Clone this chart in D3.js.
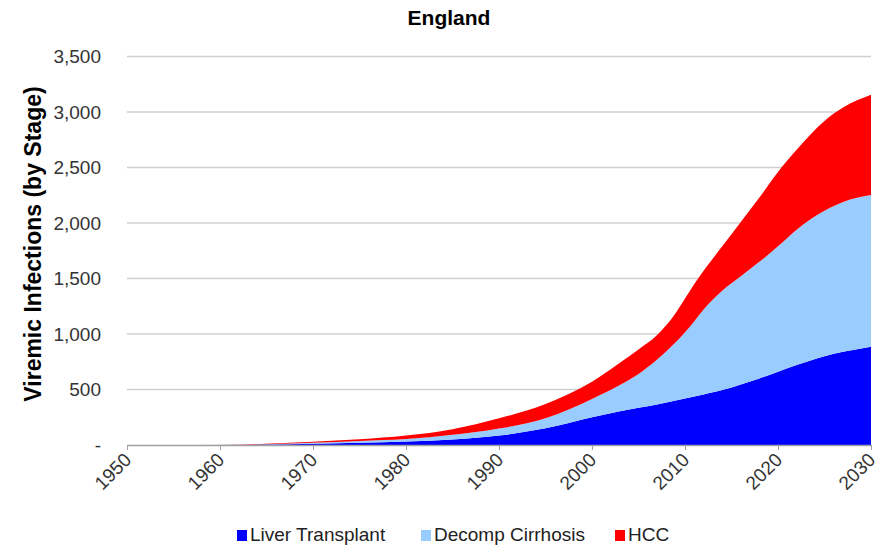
<!DOCTYPE html>
<html><head><meta charset="utf-8">
<script src="https://cdn.jsdelivr.net/npm/d3@7"></script>
<style>body{margin:0;background:#fff;} svg{display:block;font-family:"Liberation Sans",Arial,sans-serif;}</style>
</head><body>
<svg id="c" width="888" height="550"></svg>
<script>
const years =         [1950,1955,1960,1965,1970,1975,1980,1985,1990,1995,2000,2003,2005,2007,2008,2009,2010,2011,2012,2013,2014,2016,2018,2020,2022,2025,2027,2030];
const liverTransplant=[0,   0,   1,   4,   12,  20,  32,  50,  85,  150, 250, 305, 335, 365, 382, 400, 420, 437, 455, 475, 495, 545, 600, 660, 720, 800, 840, 886];
const decompCirrhosis=[0,   0,   1,   3,   8,   16,  21,  42,  63,  90,  165, 235, 305, 405, 463, 525, 595, 678, 765, 835, 895, 975, 1050,1130,1220,1310,1350,1366];
const hcc =           [0,   0,   1,   5,   10,  16,  32,  51,  92,  130, 155, 200, 220, 220, 235, 265, 305, 335, 350, 370, 400, 490, 580, 670, 720, 810, 850, 903];
const seriesNames = ["Liver Transplant","Decomp Cirrhosis","HCC"];
const colors = ["#0000ff","#99ccff","#ff0000"];
const yTicks = [0,500,1000,1500,2000,2500,3000,3500];
const xTicks = [1950,1960,1970,1980,1990,2000,2010,2020,2030];

const svg = d3.select("#c");
const x = d3.scaleLinear().domain([1950,2030]).range([127,871]);
const y = d3.scaleLinear().domain([0,3500]).range([445,56.5]);

const rows = years.map((yr,i)=>({year:yr,"Liver Transplant":liverTransplant[i],"Decomp Cirrhosis":decompCirrhosis[i],"HCC":hcc[i]}));
const stacked = d3.stack().keys(seriesNames)(rows);

// gridlines
svg.append("g").selectAll("line").data(yTicks.filter(d=>d>0)).join("line")
  .attr("x1",127).attr("x2",871).attr("y1",d=>y(d)).attr("y2",d=>y(d))
  .attr("stroke","#d0d0d0").attr("stroke-width",1.5);

const area = d3.area().x(d=>x(d.data.year)).y0(d=>y(d[0])).y1(d=>y(d[1])).curve(d3.curveMonotoneX);
svg.append("g").selectAll("path").data(stacked).join("path")
  .attr("d",area).attr("fill",(d,i)=>colors[i]);

// y axis labels
const fmt = d3.format(",");
svg.append("g").selectAll("text").data(yTicks).join("text")
  .attr("x",101).attr("y",d=>y(d)).attr("dy","0.35em").attr("text-anchor","end")
  .attr("font-size",19).attr("fill","#333")
  .text(d=>d===0?"-":fmt(d));

// x axis
const xAxis = d3.axisBottom(x).tickValues(xTicks).tickFormat(d3.format("d")).tickSize(5).tickSizeOuter(0);
const gx = svg.append("g").attr("transform","translate(0,445)").call(xAxis);
gx.select(".domain").attr("stroke","#a0a0a0").attr("stroke-width",1.5);
gx.selectAll(".tick line").attr("stroke","#a0a0a0");
gx.selectAll(".tick text")
  .attr("font-size",19).attr("fill","#333").attr("font-family","Liberation Sans, Arial, sans-serif")
  .attr("text-anchor","end").attr("dy",0).attr("y",0)
  .attr("transform","translate(5,16) rotate(-45)");

// title
svg.append("text").attr("x",449).attr("y",25).attr("text-anchor","middle")
  .attr("font-size",21).attr("font-weight","bold").attr("fill","#000").text("England");

// y title
svg.append("text").attr("transform","translate(41,244) rotate(-90)").attr("text-anchor","middle")
  .attr("font-size",23).attr("font-weight","bold").attr("fill","#000").text("Viremic Infections (by Stage)");

// legend
const legX = [237, 421, 615];
const lg = svg.append("g").selectAll("g").data(seriesNames).join("g")
  .attr("transform",(d,i)=>`translate(${legX[i]},541)`);
lg.append("rect").attr("x",0).attr("y",-11).attr("width",10).attr("height",11).attr("fill",(d,i)=>colors[i]);
lg.append("text").attr("x",13).attr("y",0).attr("font-size",19).attr("fill","#222").text(d=>d);
</script>
</body></html>
